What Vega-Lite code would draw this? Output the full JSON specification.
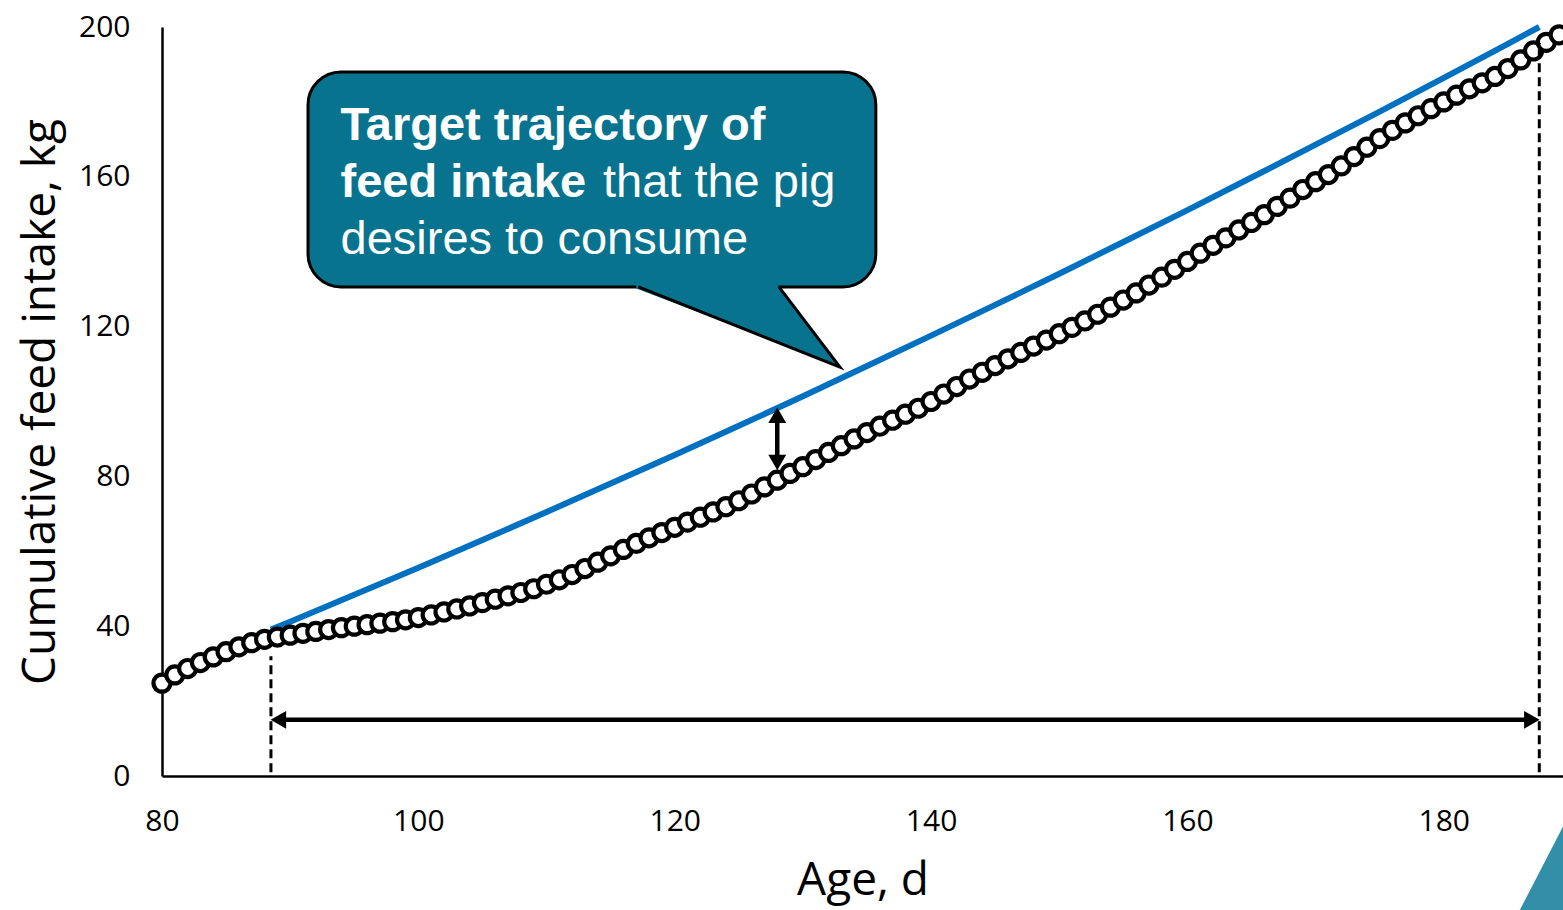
{
  "$schema": "https://vega.github.io/schema/vega-lite/v6.json",
  "width": 1401,
  "height": 749,
  "autosize": {"type": "none"},
  "padding": {"left": 162, "top": 27, "right": 0, "bottom": 134},
  "background": "white",
  "config": {
    "view": {"stroke": null},
    "axis": {"grid": false, "ticks": false, "domainColor": "black", "domainWidth": 2.5, "labelFont": "Open Sans", "labelFontSize": 30,
      "labelColor": "black", "labelFlush": false, "labelOverlap": false, "titleFont": "Open Sans", "titleFontSize": 46,
      "titleFontWeight": "normal", "titleColor": "black"},
    "axisX": {"labelPadding": 30, "titlePadding": 22},
    "axisY": {"labelPadding": 32, "titlePadding": 14}
  },
  "layer": [
    {
      "data": {"values": [
        {"day": 88.5, "kg": 39.1}, {"day": 90, "kg": 41.2}, {"day": 95, "kg": 48.4}, {"day": 100, "kg": 55.6},
        {"day": 105, "kg": 63.0}, {"day": 110, "kg": 70.5}, {"day": 115, "kg": 78.1}, {"day": 120, "kg": 85.7},
        {"day": 125, "kg": 93.5}, {"day": 130, "kg": 101.4}, {"day": 135, "kg": 109.5}, {"day": 140, "kg": 117.6},
        {"day": 145, "kg": 125.8}, {"day": 150, "kg": 134.1}, {"day": 155, "kg": 142.6}, {"day": 160, "kg": 151.1},
        {"day": 165, "kg": 159.8}, {"day": 170, "kg": 168.6}, {"day": 175, "kg": 177.4}, {"day": 180, "kg": 186.4},
        {"day": 185, "kg": 195.5}, {"day": 187.45, "kg": 200}
      ]},
      "mark": {"type": "line", "color": "#0070C0", "strokeWidth": 6},
      "encoding": {
        "x": {"field": "day", "type": "quantitative", "title": "Age, d", "scale": {"domain": [80, 189.3], "nice": false, "zero": false},
          "axis": {"values": [80, 100, 120, 140, 160, 180], "title": "Age, d"}},
        "y": {"field": "kg", "type": "quantitative", "title": "Cumulative feed intake, kg", "scale": {"domain": [0, 200], "nice": false},
          "axis": {"values": [0, 40, 80, 120, 160, 200], "title": "Cumulative feed intake, kg"}}
      }
    },
    {
      "data": {"values": [
        {"day":80,"kg":24.8},{"day":81,"kg":27.0},{"day":82,"kg":28.7},{"day":83,"kg":30.3},{"day":84,"kg":31.8},
        {"day":85,"kg":33.2},{"day":86,"kg":34.5},{"day":87,"kg":35.6},{"day":88,"kg":36.5},{"day":89,"kg":37.1},
        {"day":90,"kg":37.6},{"day":91,"kg":38.1},{"day":92,"kg":38.6},{"day":93,"kg":39.1},{"day":94,"kg":39.6},
        {"day":95,"kg":40.0},{"day":96,"kg":40.4},{"day":97,"kg":40.8},{"day":98,"kg":41.2},{"day":99,"kg":41.7},
        {"day":100,"kg":42.3},{"day":101,"kg":43.0},{"day":102,"kg":43.8},{"day":103,"kg":44.6},{"day":104,"kg":45.4},
        {"day":105,"kg":46.3},{"day":106,"kg":47.2},{"day":107,"kg":48.1},{"day":108,"kg":49.0},{"day":109,"kg":50.0},
        {"day":110,"kg":51.2},{"day":111,"kg":52.4},{"day":112,"kg":53.8},{"day":113,"kg":55.4},{"day":114,"kg":57.1},
        {"day":115,"kg":58.8},{"day":116,"kg":60.5},{"day":117,"kg":62.1},{"day":118,"kg":63.6},{"day":119,"kg":65.0},
        {"day":120,"kg":66.4},{"day":121,"kg":67.8},{"day":122,"kg":69.1},{"day":123,"kg":70.5},{"day":124,"kg":71.9},
        {"day":125,"kg":73.5},{"day":126,"kg":75.3},{"day":127,"kg":77.2},{"day":128,"kg":79.0},{"day":129,"kg":80.8},
        {"day":130,"kg":82.6},{"day":131,"kg":84.5},{"day":132,"kg":86.4},{"day":133,"kg":88.2},{"day":134,"kg":90.0},
        {"day":135,"kg":91.7},{"day":136,"kg":93.4},{"day":137,"kg":95.0},{"day":138,"kg":96.6},{"day":139,"kg":98.2},
        {"day":140,"kg":100.0},{"day":141,"kg":102.0},{"day":142,"kg":104.0},{"day":143,"kg":106.0},{"day":144,"kg":107.8},
        {"day":145,"kg":109.6},{"day":146,"kg":111.4},{"day":147,"kg":113.1},{"day":148,"kg":114.8},{"day":149,"kg":116.4},
        {"day":150,"kg":118.1},{"day":151,"kg":119.8},{"day":152,"kg":121.5},{"day":153,"kg":123.3},{"day":154,"kg":125.2},
        {"day":155,"kg":127.1},{"day":156,"kg":129.0},{"day":157,"kg":131.1},{"day":158,"kg":133.2},{"day":159,"kg":135.3},
        {"day":160,"kg":137.4},{"day":161,"kg":139.6},{"day":162,"kg":141.7},{"day":163,"kg":143.7},{"day":164,"kg":145.8},
        {"day":165,"kg":147.8},{"day":166,"kg":149.9},{"day":167,"kg":152.1},{"day":168,"kg":154.3},{"day":169,"kg":156.6},
        {"day":170,"kg":158.7},{"day":171,"kg":160.6},{"day":172,"kg":162.9},{"day":173,"kg":165.4},{"day":174,"kg":167.9},
        {"day":175,"kg":170.2},{"day":176,"kg":172.4},{"day":177,"kg":174.4},{"day":178,"kg":176.3},{"day":179,"kg":178.2},
        {"day":180,"kg":180.0},{"day":181,"kg":181.8},{"day":182,"kg":183.5},{"day":183,"kg":185.1},{"day":184,"kg":186.8},
        {"day":185,"kg":188.9},{"day":186,"kg":191.2},{"day":187,"kg":193.6},{"day":188,"kg":195.9},{"day":189,"kg":197.9}
      ]},
      "mark": {"type": "point", "shape": "circle", "filled": true, "fill": "white", "stroke": "black", "strokeWidth": 4.2, "size": 290, "opacity": 1},
      "encoding": {
        "x": {"field": "day", "type": "quantitative", "title": "Age, d"},
        "y": {"field": "kg", "type": "quantitative", "title": "Cumulative feed intake, kg"}
      }
    },
    {
      "data": {"values": [{"day": 88.5, "lo": 1, "hi": 32}, {"day": 187.45, "lo": 1, "hi": 195.7}]},
      "mark": {"type": "rule", "color": "black", "strokeWidth": 3, "strokeDash": [9, 5]},
      "encoding": {
        "x": {"field": "day", "type": "quantitative", "title": "Age, d"},
        "y": {"field": "lo", "type": "quantitative", "title": "Cumulative feed intake, kg"},
        "y2": {"field": "hi"}
      }
    },
    {
      "data": {"values": [{"x1": 89.5, "x2": 186.5, "y1": 15, "y2": 15}, {"x1": 128, "x2": 128, "y1": 83.5, "y2": 96.5}]},
      "mark": {"type": "rule", "color": "black", "strokeWidth": 4.5},
      "encoding": {
        "x": {"field": "x1", "type": "quantitative", "title": "Age, d"},
        "x2": {"field": "x2"},
        "y": {"field": "y1", "type": "quantitative", "title": "Cumulative feed intake, kg"},
        "y2": {"field": "y2"}
      }
    },
    {
      "data": {"values": [
        {"day": 89.08, "kg": 15, "dir": "left"}, {"day": 186.87, "kg": 15, "dir": "right"},
        {"day": 128, "kg": 96.3, "dir": "up"}, {"day": 128, "kg": 83.7, "dir": "down"}
      ]},
      "mark": {"type": "point", "filled": true, "color": "black", "size": 320, "opacity": 1},
      "encoding": {
        "x": {"field": "day", "type": "quantitative", "title": "Age, d"},
        "y": {"field": "kg", "type": "quantitative", "title": "Cumulative feed intake, kg"},
        "shape": {"field": "dir", "type": "nominal", "legend": null,
          "scale": {"domain": ["left", "right", "up", "down"], "range": ["triangle-left", "triangle-right", "triangle-up", "triangle-down"]}}
      }
    },
    {
      "data": {"values": [{"x1": 91.39, "x2": 135.69, "y1": 130.6, "y2": 188.0}]},
      "mark": {"type": "rect", "fill": "#07738F", "stroke": "black", "strokeWidth": 3, "cornerRadius": 33},
      "encoding": {
        "x": {"field": "x1", "type": "quantitative", "title": "Age, d"},
        "x2": {"field": "x2"},
        "y": {"field": "y1", "type": "quantitative", "title": "Cumulative feed intake, kg"},
        "y2": {"field": "y2"}
      }
    },
    {
      "data": {"values": [
        {"x": 117.0, "lo": 130.2, "hi": 131.6},
        {"x": 127.9, "lo": 116.0, "hi": 131.6},
        {"x": 128.13, "lo": 115.7, "hi": 130.6},
        {"x": 132.89, "lo": 109.2, "hi": 109.2}
      ]},
      "mark": {"type": "area", "orient": "vertical", "fill": "#07738F", "opacity": 1},
      "encoding": {
        "x": {"field": "x", "type": "quantitative", "title": "Age, d"},
        "y": {"field": "lo", "type": "quantitative", "title": "Cumulative feed intake, kg"},
        "y2": {"field": "hi"}
      }
    },
    {
      "data": {"values": [
        {"x": 117.17, "y": 130.6, "o": 1},
        {"x": 132.89, "y": 109.2, "o": 2},
        {"x": 128.13, "y": 130.6, "o": 3}
      ]},
      "mark": {"type": "line", "color": "black", "strokeWidth": 3, "strokeJoin": "miter"},
      "encoding": {
        "x": {"field": "x", "type": "quantitative", "title": "Age, d"},
        "y": {"field": "y", "type": "quantitative", "title": "Cumulative feed intake, kg"},
        "order": {"field": "o", "type": "quantitative"}
      }
    },
    {
      "data": {"values": [
        {"x": 93.93, "y": 169.8, "t": "Target trajectory of"},
        {"x": 93.93, "y": 154.6, "t": "feed intake"}
      ]},
      "mark": {"type": "text", "font": "Liberation Sans", "fontWeight": "bold", "fontSize": 47, "color": "white", "align": "left", "baseline": "alphabetic"},
      "encoding": {
        "x": {"field": "x", "type": "quantitative", "title": "Age, d"},
        "y": {"field": "y", "type": "quantitative", "title": "Cumulative feed intake, kg"},
        "text": {"field": "t"}
      }
    },
    {
      "data": {"values": [
        {"x": 114.4, "y": 154.6, "t": "that the pig"},
        {"x": 93.93, "y": 139.4, "t": "desires to consume"}
      ]},
      "mark": {"type": "text", "font": "Liberation Sans", "fontWeight": "normal", "fontSize": 47, "color": "white", "align": "left", "baseline": "alphabetic"},
      "encoding": {
        "x": {"field": "x", "type": "quantitative", "title": "Age, d"},
        "y": {"field": "y", "type": "quantitative", "title": "Cumulative feed intake, kg"},
        "text": {"field": "t"}
      }
    },
    {
      "data": {"values": [
        {"x": 185.93, "lo": -40, "hi": -35.8},
        {"x": 189.28, "lo": -40, "hi": -13.6},
        {"x": 190.5, "lo": -40, "hi": -6}
      ]},
      "mark": {"type": "area", "orient": "vertical", "fill": "#338FA8", "opacity": 1},
      "encoding": {
        "x": {"field": "x", "type": "quantitative", "title": "Age, d"},
        "y": {"field": "lo", "type": "quantitative", "title": "Cumulative feed intake, kg"},
        "y2": {"field": "hi"}
      }
    }
  ]
}
